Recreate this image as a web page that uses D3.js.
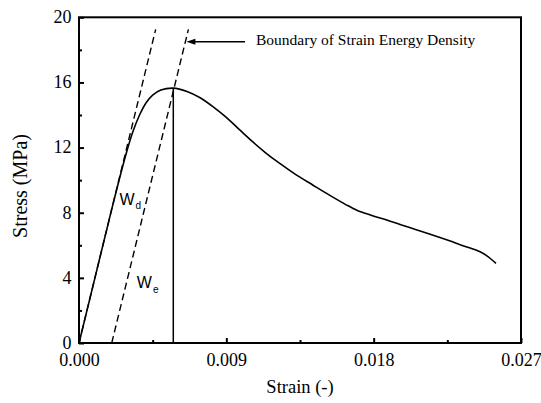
<!DOCTYPE html>
<html>
<head>
<meta charset="utf-8">
<script src="https://cdn.jsdelivr.net/npm/d3@7/dist/d3.min.js"></script>
<style>
  body { margin: 0; background: #fff; }
  text { fill: #000; }
</style>
</head>
<body>
<svg id="chart" width="541" height="403"></svg>
<script>
// Measured stress-strain curve
const strain = [0, 0.0010, 0.0020, 0.0025, 0.0029, 0.0033, 0.0037, 0.0041, 0.0045, 0.0050,
  0.00576, 0.0066, 0.0074, 0.0082, 0.0090, 0.0098, 0.0106, 0.0114, 0.0122, 0.0132,
  0.0143, 0.0153, 0.0163, 0.0170, 0.0178, 0.0188, 0.0197, 0.0206, 0.0215, 0.0225, 0.0235,
  0.0245, 0.0250, 0.02547];
const stress = [0, 4.11, 8.22, 10.2, 11.7, 13.0, 14.0, 14.75, 15.22, 15.53,
  15.65, 15.45, 15.06, 14.5, 13.85, 13.1, 12.36, 11.68, 11.07, 10.37,
  9.69, 9.08, 8.5, 8.14, 7.86, 7.55, 7.25, 6.96, 6.66, 6.32, 5.96,
  5.60, 5.29, 4.89];

// Peak point and the two elastic (modulus) lines
const peakStrain = 0.00576;
const peakStress = 15.65;
const elasticModulus = 4112;          // MPa
const elasticOffsets = [0, 0.002];    // strain where each elastic line meets zero stress
const elasticTopStress = 19.26;

// Axes
const xTicks = [0, 0.009, 0.018, 0.027];
const xMinorTicks = [0.0045, 0.0135, 0.0225];
const yTicks = [0, 4, 8, 12, 16, 20];
const yMinorTicks = [2, 6, 10, 14, 18];

const svg = d3.select("#chart");
const plotLeft = 79, plotRight = 521, plotTop = 17.3, plotBottom = 343;

const x = d3.scaleLinear().domain([0, 0.027]).range([plotLeft, plotRight]);
const y = d3.scaleLinear().domain([0, 20]).range([plotBottom, plotTop]);

const serif = "Liberation Serif, Times New Roman, serif";
const sans = "Liberation Sans, Arial, sans-serif";

// Minor ticks (inward)
svg.append("g").attr("transform", `translate(0,${plotBottom})`)
  .call(d3.axisBottom(x).tickValues(xMinorTicks).tickSize(-3).tickFormat(""))
  .call(g => g.select(".domain").remove())
  .call(g => g.selectAll("line").attr("stroke-width", 2));
svg.append("g").attr("transform", `translate(${plotLeft},0)`)
  .call(d3.axisLeft(y).tickValues(yMinorTicks).tickSize(-3).tickFormat(""))
  .call(g => g.select(".domain").remove())
  .call(g => g.selectAll("line").attr("stroke-width", 2));

// Major ticks with labels
const xAxis = svg.append("g").attr("transform", `translate(0,${plotBottom})`)
  .call(d3.axisBottom(x).tickValues(xTicks).tickSize(-5).tickPadding(0).tickFormat(d3.format(".3f")))
  .attr("font-family", serif).attr("font-size", 18)
  .call(g => g.select(".domain").remove())
  .call(g => g.selectAll("line").attr("stroke-width", 2));
xAxis.selectAll("text")
  .attr("y", 23).attr("dy", 0).attr("fill", "#000");

const yAxis = svg.append("g").attr("transform", `translate(${plotLeft},0)`)
  .call(d3.axisLeft(y).tickValues(yTicks).tickSize(-5).tickFormat(d3.format("d")))
  .attr("font-family", serif).attr("font-size", 18)
  .call(g => g.select(".domain").remove())
  .call(g => g.selectAll("line").attr("stroke-width", 2));
yAxis.selectAll("text")
  .attr("x", -7.5).attr("dy", "0.3em").attr("fill", "#000");

// Elastic lines (dashed)
const lineGen = d3.line().x(d => x(d[0])).y(d => y(d[1]));
svg.selectAll("path.elastic")
  .data(elasticOffsets.map(s0 => [[s0, 0], [s0 + elasticTopStress / elasticModulus, elasticTopStress]]))
  .join("path")
  .attr("class", "elastic")
  .attr("d", lineGen)
  .attr("fill", "none")
  .attr("stroke", "#000")
  .attr("stroke-width", 1.4)
  .attr("stroke-dasharray", "7,4");

// Vertical line at the peak
svg.append("path")
  .attr("d", lineGen([[peakStrain, 0], [peakStrain, peakStress]]))
  .attr("stroke", "#000")
  .attr("stroke-width", 1.5);

// Stress-strain curve
const curve = d3.line()
  .x((d, i) => x(strain[i]))
  .y((d, i) => y(stress[i]))
  .curve(d3.curveCatmullRom.alpha(0.5));
svg.append("path")
  .attr("d", curve(strain))
  .attr("fill", "none")
  .attr("stroke", "#000")
  .attr("stroke-width", 1.6);

// Frame
svg.append("rect")
  .attr("x", plotLeft).attr("y", plotTop)
  .attr("width", plotRight - plotLeft).attr("height", plotBottom - plotTop)
  .attr("fill", "none").attr("stroke", "#000").attr("stroke-width", 2);

// Region labels
function subLabel(sx, sy, main, sub) {
  const t = svg.append("text")
    .attr("x", x(sx)).attr("y", y(sy))
    .attr("font-family", sans).attr("font-size", 16);
  t.append("tspan").text(main);
  t.append("tspan").attr("dx", 1).attr("dy", 4.5).attr("font-size", 10).text(sub);
}
subLabel(0.00247, 8.48, "W", "d");
subLabel(0.00353, 3.36, "W", "e");

// Annotation arrow
const arrowY = 41.7;
const tipX = x(elasticOffsets[1] + (y.invert(arrowY)) / elasticModulus) + 1;
svg.append("line")
  .attr("x1", 245).attr("x2", tipX + 7)
  .attr("y1", arrowY).attr("y2", arrowY)
  .attr("stroke", "#000").attr("stroke-width", 1.5);
svg.append("path")
  .attr("d", `M${tipX},${arrowY} L${tipX + 9},${arrowY - 3} L${tipX + 9},${arrowY + 3} Z`)
  .attr("fill", "#000");
svg.append("text")
  .attr("x", 256).attr("y", 44.5)
  .attr("font-family", serif).attr("font-size", 15.5)
  .text("Boundary of Strain Energy Density");

// Axis titles
svg.append("text")
  .attr("x", (plotLeft + plotRight) / 2).attr("y", 393)
  .attr("text-anchor", "middle")
  .attr("font-family", serif).attr("font-size", 18.5)
  .text("Strain (-)");
svg.append("text")
  .attr("transform", "translate(27,186) rotate(-90)")
  .attr("text-anchor", "middle")
  .attr("font-family", serif).attr("font-size", 20)
  .text("Stress (MPa)");
</script>
</body>
</html>
